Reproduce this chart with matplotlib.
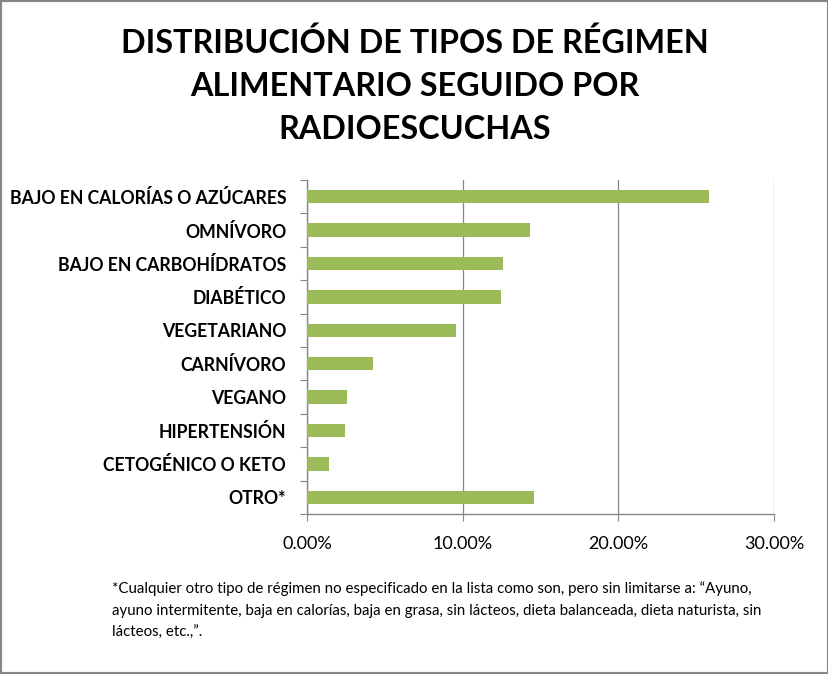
import matplotlib.pyplot as plt
import numpy as np
from matplotlib.ticker import FuncFormatter
from matplotlib.patches import Rectangle

plt.rcParams['font.family'] = ['Lato', 'DejaVu Sans']

categorias = ["BAJO EN CALORÍAS O AZÚCARES", "OMNÍVORO", "BAJO EN CARBOHÍDRATOS",
              "DIABÉTICO", "VEGETARIANO", "CARNÍVORO", "VEGANO", "HIPERTENSIÓN",
              "CETOGÉNICO O KETO", "OTRO*"]
porcentajes = [25.80, 14.34, 12.58, 12.47, 9.57, 4.23, 2.56, 2.43, 1.40, 14.60]
ticks_x = [0, 10, 20, 30]

titulo = ["DISTRIBUCIÓN DE TIPOS DE RÉGIMEN", "ALIMENTARIO SEGUIDO POR", "RADIOESCUCHAS"]
nota = ["*Cualquier otro tipo de régimen no especificado en la lista como son, pero sin limitarse a: \u201cAyuno,",
        "ayuno intermitente, baja en calorías, baja en grasa, sin lácteos, dieta balanceada, dieta naturista, sin",
        "lácteos, etc.,\u201d."]

W, H = 829, 674
fig = plt.figure(figsize=(W / 100, H / 100), dpi=100)
ax = fig.add_axes([307 / W, 1 - 514 / H, 467 / W, 334 / H])

y = np.arange(len(categorias))
ax.barh(y, porcentajes, height=0.4, color="#9BBB59", zorder=3)
ax.set_ylim(len(categorias) - 0.5, -0.5)
ax.set_xlim(0, 30)
ax.set_xticks(ticks_x)
ax.xaxis.set_major_formatter(FuncFormatter(lambda v, p: "{:.2f}%".format(v)))

ax.set_yticks(np.arange(-0.5, len(categorias), 1.0))
ax.set_yticklabels([])
ax.set_yticks(y, minor=True)
ax.set_yticklabels(categorias, minor=True, fontsize=12.7, fontweight="bold")
ax.tick_params(axis="y", which="minor", length=0, pad=15)
ax.tick_params(axis="y", which="major", length=5, color="#868686", direction="out")
ax.tick_params(axis="x", length=5, color="#868686", labelsize=13, pad=11)

ax.grid(axis="x", color="#868686", linewidth=0.9, zorder=0)
for s in ["top", "right"]:
    ax.spines[s].set_visible(False)
for s in ["left", "bottom"]:
    ax.spines[s].set_color("#868686")
    ax.spines[s].set_linewidth(1.0)

for i, linea in enumerate(titulo):
    fig.text(0.5, 1 - (53 + 43 * i) / H, linea, ha="center", va="baseline",
             fontsize=23.3, fontweight="bold")
for i, linea in enumerate(nota):
    fig.text(112 / W, 1 - (593 + 22 * i) / H, linea, ha="left", va="baseline",
             fontsize=10.8)

fig.patches.append(Rectangle((0, 0), 1, 1, transform=fig.transFigure, fill=False,
                             edgecolor="#868686", linewidth=3))

fig.savefig("out.png", dpi=100)
